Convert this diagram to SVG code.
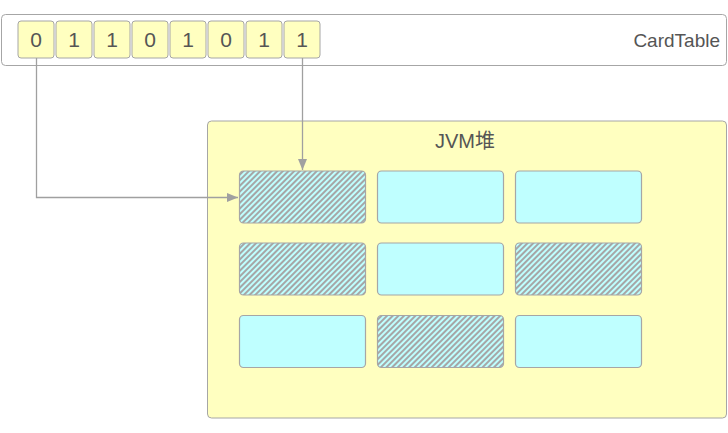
<svg xmlns="http://www.w3.org/2000/svg" width="728" height="433" viewBox="0 0 728 433">
<style>
.frame{fill:#fff;stroke:#a6a6a6;stroke-width:1}
.cell{fill:#ffffc0;stroke:#a6a6a6;stroke-width:1}
.heap{fill:#ffffc0;stroke:#a6a6a6;stroke-width:1}
.blk{fill:#bfffff;stroke:#a6a6a6;stroke-width:1.2}
.hat{fill:url(#hatch);stroke:#a6a6a6;stroke-width:1.2}
.d{font-family:"Liberation Sans","Noto Sans CJK SC",sans-serif;font-size:21px;fill:#555;text-anchor:middle}
.lbl{font-family:"Liberation Sans","Noto Sans CJK SC",sans-serif;font-size:19px;fill:#555}
.con{fill:none;stroke:#a0a0a0;stroke-width:1.3}
</style>
<defs>
<pattern id="hatch" patternUnits="userSpaceOnUse" width="4" height="4" patternTransform="rotate(45)">
<rect width="4" height="4" fill="#bfffff"/>
<rect width="2" height="4" fill="#a6a6a6"/>
</pattern>
<marker id="ah" markerWidth="12" markerHeight="10" refX="11" refY="5" orient="auto" markerUnits="userSpaceOnUse">
<path d="M0,0.5 L11,5 L0,9.5 Z" fill="#a0a0a0"/>
</marker>
</defs>
<g id="cardtable">
<rect class="frame" x="1.5" y="14.5" width="725" height="51" rx="4"/>
<text class="lbl" x="720" y="47" text-anchor="end">CardTable</text>
</g>
<g id="cells">
<g id="c0"><rect class="cell" x="18" y="21" width="36" height="37" rx="3"/><text class="d" x="36" y="47">0</text></g>
<g id="c1"><rect class="cell" x="56" y="21" width="36" height="37" rx="3"/><text class="d" x="74" y="47">1</text></g>
<g id="c2"><rect class="cell" x="94" y="21" width="36" height="37" rx="3"/><text class="d" x="112" y="47">1</text></g>
<g id="c3"><rect class="cell" x="132" y="21" width="36" height="37" rx="3"/><text class="d" x="150" y="47">0</text></g>
<g id="c4"><rect class="cell" x="170" y="21" width="36" height="37" rx="3"/><text class="d" x="188" y="47">1</text></g>
<g id="c5"><rect class="cell" x="208" y="21" width="36" height="37" rx="3"/><text class="d" x="226" y="47">0</text></g>
<g id="c6"><rect class="cell" x="246" y="21" width="36" height="37" rx="3"/><text class="d" x="264" y="47">1</text></g>
<g id="c7"><rect class="cell" x="284" y="21" width="36" height="37" rx="3"/><text class="d" x="302" y="47">1</text></g>
</g>
<g id="heap">
<rect class="heap" x="207.5" y="121" width="519" height="297" rx="4"/>
<text class="lbl" x="465" y="148" text-anchor="middle" style="font-size:20px">JVM堆</text>
</g>
<g id="blocks">
<g id="b11"><rect class="hat" x="239.5" y="171" width="126" height="52" rx="4"/></g>
<g id="b12"><rect class="blk" x="377.5" y="171" width="126" height="52" rx="4"/></g>
<g id="b13"><rect class="blk" x="515.5" y="171" width="126" height="52" rx="4"/></g>
<g id="b21"><rect class="hat" x="239.5" y="243" width="126" height="52" rx="4"/></g>
<g id="b22"><rect class="blk" x="377.5" y="243" width="126" height="52" rx="4"/></g>
<g id="b23"><rect class="hat" x="515.5" y="243" width="126" height="52" rx="4"/></g>
<g id="b31"><rect class="blk" x="239.5" y="315.5" width="126" height="52" rx="4"/></g>
<g id="b32"><rect class="hat" x="377.5" y="315.5" width="126" height="52" rx="4"/></g>
<g id="b33"><rect class="blk" x="515.5" y="315.5" width="126" height="52" rx="4"/></g>
</g>
<g id="connectors">
<path class="con" d="M36.5,58 V197.5 H238" marker-end="url(#ah)"/>
<path class="con" d="M302.5,58 V170" marker-end="url(#ah)"/>
</g>
</svg>
